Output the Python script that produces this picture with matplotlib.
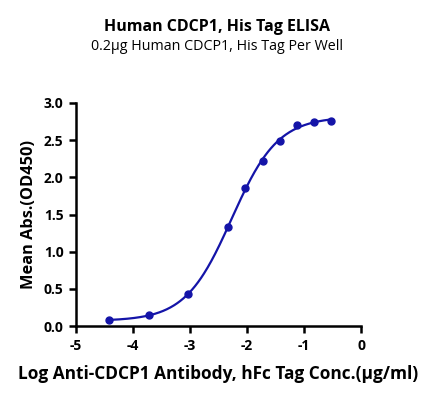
import numpy as np
from matplotlib import pyplot as plt

plt.rcParams['font.family'] = ['Open Sans', 'DejaVu Sans']
plt.rcParams['axes.unicode_minus'] = False

log_conc = [-4.426, -3.727, -3.028, -2.329, -2.028, -1.727, -1.426, -1.125, -0.824, -0.523]
od450 = [0.08, 0.144, 0.435, 1.336, 1.86, 2.225, 2.494, 2.70, 2.74, 2.763]

title = 'Human CDCP1, His Tag ELISA'
subtitle = '0.2\u00b5g Human CDCP1, His Tag Per Well'
xlabel = 'Log Anti-CDCP1 Antibody, hFc Tag Conc.(\u00b5g/ml)'
ylabel = 'Mean Abs.(OD450)'
color = '#1414A8'


def fourpl(x, p):
    bottom, top, ec50, hill = p
    return bottom + (top - bottom) / (1 + 10 ** ((ec50 - x) * hill))


def fit_4pl(x, y):
    # small Levenberg-Marquardt, numpy only
    x = np.asarray(x)
    y = np.asarray(y)
    p = np.array([y.min(), y.max(), np.median(x), 1.0])
    lam = 1e-3
    for _ in range(200):
        r = y - fourpl(x, p)
        J = np.empty((len(x), 4))
        for i in range(4):
            dp = np.zeros(4)
            dp[i] = 1e-6
            J[:, i] = (fourpl(x, p + dp) - fourpl(x, p)) / 1e-6
        A = J.T @ J
        step = np.linalg.solve(A + lam * np.diag(np.diag(A)), J.T @ r)
        p_new = p + step
        if np.sum((y - fourpl(x, p_new)) ** 2) < np.sum(r ** 2):
            p = p_new
            lam *= 0.5
        else:
            lam *= 4
    return p


params = fit_4pl(log_conc, od450)
xs = np.linspace(min(log_conc), max(log_conc), 300)

fig = plt.figure(figsize=(4.35, 4.0), dpi=100)
ax = fig.add_axes([0.1747, 0.185, 0.6553, 0.5575])

ax.plot(xs, fourpl(xs, params), color=color, lw=1.6, zorder=2)
ax.plot(log_conc, od450, 'o', color=color, ms=5, zorder=3, clip_on=False)

ax.set_xlim(-5, 0)
ax.set_ylim(0, 3.0)
ax.set_xticks(range(-5, 1))
ax.set_yticks(np.arange(0, 3.01, 0.5))
ax.set_yticklabels([f'{v:.1f}' for v in np.arange(0, 3.01, 0.5)])

for s in ['top', 'right']:
    ax.spines[s].set_visible(False)
for s in ['left', 'bottom']:
    ax.spines[s].set_linewidth(1.8)
ax.tick_params(width=1.8, length=5, labelsize=10, pad=4)
for lab in ax.get_xticklabels() + ax.get_yticklabels():
    lab.set_fontweight('bold')

ax.set_xlabel(xlabel, fontsize=12.4, fontweight='bold', labelpad=9)
ax.set_ylabel(ylabel, fontsize=11.8, fontweight='bold', labelpad=5)

fig.text(0.5, 0.932, title, ha='center', va='center', fontsize=11.5, fontweight='bold')
fig.text(0.5, 0.885, subtitle, ha='center', va='center', fontsize=10.3)

fig.savefig('out.png', dpi=100)
